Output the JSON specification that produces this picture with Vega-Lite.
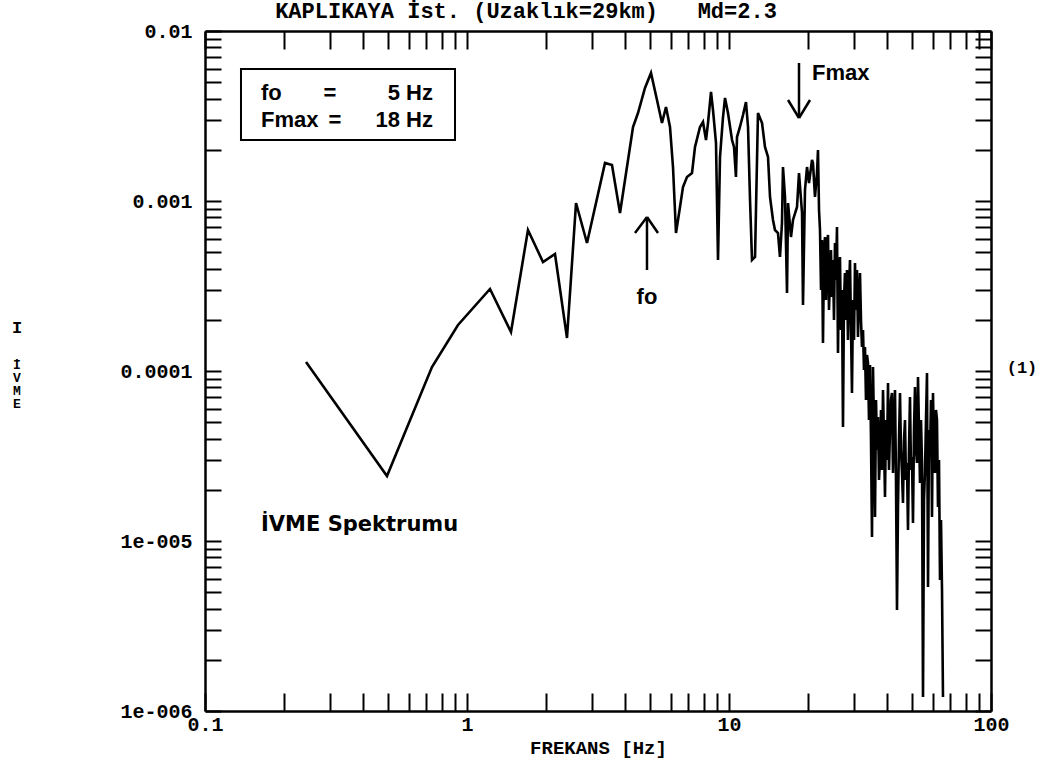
{
  "$schema": "https://vega.github.io/schema/vega-lite/v6.json",
  "width": 786,
  "height": 680,
  "autosize": {"type": "none"},
  "padding": {"left": 205, "top": 31, "right": 54, "bottom": 51},
  "background": "white",
  "title": {
    "text": "KAPLIKAYA İst. (Uzaklık=29km)\u00a0\u00a0\u00a0Md=2.3",
    "font": "Liberation Mono",
    "fontWeight": "bold",
    "fontSize": 22,
    "color": "black",
    "anchor": "middle",
    "dx": -72,
    "dy": 28,
    "offset": 4,
    "baseline": "bottom"
  },
  "config": {
    "view": {"stroke": null},
    "axis": {
      "grid": false,
      "domainColor": "black",
      "domainWidth": 2.5,
      "tickColor": "black",
      "tickWidth": 2,
      "labelColor": "black",
      "labelFont": "Liberation Mono",
      "labelFontWeight": "bold",
      "labelFontSize": 20,
      "titleColor": "black",
      "titleFont": "Liberation Mono",
      "titleFontWeight": "bold",
      "titleFontSize": 19,
      "labelOverlap": false,
      "labelBound": false,
      "labelFlush": false
    }
  },
  "datasets": {
    "spec": [
      {"f": 0.243, "a": 1.13e-4}, {"f": 0.495, "a": 2.41e-5}, {"f": 0.735, "a": 1.056e-4}, {"f": 0.924, "a": 1.865e-4},
      {"f": 1.224, "a": 3.036e-4}, {"f": 1.472, "a": 1.696e-4}, {"f": 1.709, "a": 6.752e-4}, {"f": 1.95, "a": 4.377e-4},
      {"f": 2.167, "a": 4.878e-4}, {"f": 2.408, "a": 1.564e-4}, {"f": 2.607, "a": 9.733e-4}, {"f": 2.871, "a": 5.661e-4},
      {"f": 3.363, "a": 1.673e-3}, {"f": 3.576, "a": 1.628e-3}, {"f": 3.837, "a": 8.498e-4}, {"f": 4.189, "a": 2.078e-3},
      {"f": 4.302, "a": 2.725e-3}, {"f": 4.494, "a": 3.294e-3}, {"f": 4.779, "a": 4.62e-3}, {"f": 5.038, "a": 5.661e-3},
      {"f": 5.311, "a": 3.928e-3}, {"f": 5.549, "a": 2.876e-3}, {"f": 5.748, "a": 3.572e-3}, {"f": 5.954, "a": 2.725e-3},
      {"f": 6.113, "a": 1.585e-3}, {"f": 6.276, "a": 6.483e-4}, {"f": 6.501, "a": 9.22e-4}, {"f": 6.674, "a": 1.209e-3},
      {"f": 6.913, "a": 1.384e-3}, {"f": 7.224, "a": 1.461e-3}, {"f": 7.417, "a": 2.078e-3}, {"f": 7.75, "a": 2.725e-3},
      {"f": 7.957, "a": 2.915e-3}, {"f": 8.17, "a": 2.285e-3}, {"f": 8.315, "a": 2.876e-3}, {"f": 8.537, "a": 4.377e-3},
      {"f": 8.688, "a": 3.43e-3}, {"f": 8.92, "a": 2.194e-3}, {"f": 9.079, "a": 4.497e-4}, {"f": 9.24, "a": 1.815e-3},
      {"f": 9.487, "a": 3.12e-3}, {"f": 9.655, "a": 4.036e-3}, {"f": 9.912, "a": 3.294e-3}, {"f": 10.27, "a": 2.285e-3},
      {"f": 10.45, "a": 2.078e-3}, {"f": 10.63, "a": 1.384e-3}, {"f": 10.73, "a": 2.379e-3}, {"f": 11.01, "a": 2.725e-3},
      {"f": 11.31, "a": 3.205e-3}, {"f": 11.61, "a": 3.823e-3}, {"f": 11.82, "a": 2.725e-3}, {"f": 12.03, "a": 1.014e-3},
      {"f": 12.24, "a": 4.497e-4}, {"f": 12.57, "a": 4.684e-4}, {"f": 12.9, "a": 3.294e-3}, {"f": 13.37, "a": 2.876e-3},
      {"f": 13.72, "a": 2.078e-3}, {"f": 14.09, "a": 1.815e-3}, {"f": 14.34, "a": 1.056e-3}, {"f": 14.72, "a": 7.733e-4},
      {"f": 14.98, "a": 6.752e-4}, {"f": 15.38, "a": 6.483e-4}, {"f": 15.65, "a": 4.684e-4}, {"f": 15.93, "a": 7.425e-4},
      {"f": 16.07, "a": 1.585e-3}, {"f": 16.36, "a": 1.056e-3}, {"f": 16.65, "a": 2.876e-4}, {"f": 16.8, "a": 9.733e-4},
      {"f": 17.24, "a": 6.142e-4}, {"f": 17.55, "a": 7.733e-4}, {"f": 18.18, "a": 9.22e-4}, {"f": 18.5, "a": 1.461e-3},
      {"f": 19.0, "a": 8.498e-4}, {"f": 19.16, "a": 2.445e-4}, {"f": 19.5, "a": 1.161e-3}, {"f": 19.85, "a": 1.585e-3},
      {"f": 20.2, "a": 1.276e-3}, {"f": 20.74, "a": 1.743e-3}, {"f": 20.92, "a": 1.673e-3}, {"f": 21.29, "a": 1.056e-3},
      {"f": 21.67, "a": 1.461e-3}, {"f": 21.86, "a": 1.995e-3}, {"f": 22.06, "a": 8.852e-4},
      {"f": 22.25, "a": 6.752e-4}, {"f": 22.45, "a": 2.995e-4}, {"f": 22.64, "a": 5.897e-4}, {"f": 22.84, "a": 1.461e-4},
      {"f": 23.05, "a": 5.15e-4}, {"f": 23.25, "a": 6.142e-4}, {"f": 23.46, "a": 2.616e-4}, {"f": 23.66, "a": 5.51e-4},
      {"f": 23.87, "a": 6.31e-4}, {"f": 24.08, "a": 2.285e-4}, {"f": 24.29, "a": 3.572e-4}, {"f": 24.5, "a": 5.15e-4},
      {"f": 24.72, "a": 2.725e-4}, {"f": 24.94, "a": 4.497e-4}, {"f": 25.16, "a": 1.995e-4}, {"f": 25.38, "a": 5.661e-4},
      {"f": 25.61, "a": 3.43e-4}, {"f": 25.83, "a": 7.032e-4}, {"f": 26.06, "a": 1.276e-4}, {"f": 26.29, "a": 3.928e-4},
      {"f": 26.52, "a": 4.684e-4}, {"f": 26.75, "a": 1.743e-4}, {"f": 26.99, "a": 2.995e-4}, {"f": 27.23, "a": 4.684e-5},
      {"f": 27.47, "a": 2.616e-4}, {"f": 27.71, "a": 3.771e-4}, {"f": 27.96, "a": 1.995e-4}, {"f": 28.2, "a": 3.928e-4},
      {"f": 28.45, "a": 1.522e-4}, {"f": 28.7, "a": 2.995e-4}, {"f": 28.96, "a": 4.497e-4}, {"f": 29.22, "a": 1.743e-4},
      {"f": 29.47, "a": 7.425e-5}, {"f": 29.73, "a": 2.616e-4}, {"f": 30.0, "a": 1.522e-4}, {"f": 30.26, "a": 4.318e-4},
      {"f": 30.53, "a": 2.285e-4}, {"f": 30.8, "a": 3.928e-4}, {"f": 31.07, "a": 1.585e-4}, {"f": 31.34, "a": 2.616e-4},
      {"f": 31.62, "a": 3.771e-4}, {"f": 31.9, "a": 1.995e-4}, {"f": 32.18, "a": 1.384e-4}, {"f": 32.47, "a": 1.743e-4},
      {"f": 32.75, "a": 1.014e-4}, {"f": 33.04, "a": 1.384e-4}, {"f": 33.33, "a": 6.752e-5}, {"f": 33.63, "a": 1.242e-4},
      {"f": 33.92, "a": 1.115e-4}, {"f": 34.22, "a": 5.15e-5}, {"f": 34.53, "a": 1.085e-4}, {"f": 34.83, "a": 3.928e-5},
      {"f": 35.14, "a": 1.056e-5}, {"f": 35.45, "a": 1.056e-4}, {"f": 35.77, "a": 4.497e-5}, {"f": 36.08, "a": 1.384e-5},
      {"f": 36.4, "a": 6.752e-5}, {"f": 36.72, "a": 3.43e-5}, {"f": 37.05, "a": 5.364e-5}, {"f": 37.37, "a": 2.285e-5},
      {"f": 37.7, "a": 3.12e-5}, {"f": 38.03, "a": 5.897e-5}, {"f": 38.37, "a": 2.616e-5}, {"f": 38.71, "a": 7.733e-5},
      {"f": 39.05, "a": 3.928e-5}, {"f": 39.39, "a": 1.815e-5}, {"f": 39.74, "a": 5.15e-5}, {"f": 40.09, "a": 2.995e-5},
      {"f": 40.45, "a": 8.498e-5}, {"f": 40.8, "a": 2.616e-5}, {"f": 41.16, "a": 4.497e-5}, {"f": 41.52, "a": 6.752e-5},
      {"f": 41.89, "a": 7.425e-5}, {"f": 42.26, "a": 2.512e-5}, {"f": 42.63, "a": 5.15e-5}, {"f": 43.01, "a": 7.733e-5},
      {"f": 43.39, "a": 2.285e-5}, {"f": 43.77, "a": 3.928e-6}, {"f": 44.16, "a": 1.585e-5}, {"f": 44.55, "a": 3.928e-5},
      {"f": 44.94, "a": 7.425e-5}, {"f": 45.34, "a": 3.43e-5}, {"f": 45.74, "a": 2.512e-5}, {"f": 46.14, "a": 1.673e-5},
      {"f": 46.55, "a": 3.928e-5}, {"f": 46.96, "a": 5.15e-5}, {"f": 47.37, "a": 2.285e-5}, {"f": 47.79, "a": 2.876e-5},
      {"f": 48.21, "a": 1.161e-5}, {"f": 48.64, "a": 3.43e-5}, {"f": 49.07, "a": 7.032e-5}, {"f": 49.5, "a": 2.616e-5},
      {"f": 49.94, "a": 3.12e-5}, {"f": 50.38, "a": 1.276e-5}, {"f": 50.83, "a": 4.497e-5}, {"f": 51.28, "a": 8.052e-5},
      {"f": 51.73, "a": 3.43e-5}, {"f": 52.19, "a": 2.876e-5}, {"f": 52.65, "a": 9.22e-5}, {"f": 53.11, "a": 4.497e-5},
      {"f": 53.58, "a": 2.194e-5}, {"f": 54.05, "a": 5.15e-5}, {"f": 54.53, "a": 2.876e-5}, {"f": 55.01, "a": 1.209e-6},
      {"f": 55.5, "a": 1.743e-5}, {"f": 55.99, "a": 2.616e-5}, {"f": 56.48, "a": 5.15e-5}, {"f": 56.98, "a": 9.733e-5},
      {"f": 57.49, "a": 5.364e-6}, {"f": 57.99, "a": 4.497e-5}, {"f": 58.5, "a": 3.12e-5}, {"f": 59.02, "a": 6.752e-5},
      {"f": 59.54, "a": 1.384e-5}, {"f": 60.06, "a": 7.425e-5}, {"f": 60.59, "a": 3.43e-5}, {"f": 61.13, "a": 2.512e-5},
      {"f": 61.67, "a": 5.897e-5}, {"f": 62.21, "a": 5.15e-5}, {"f": 62.76, "a": 1.585e-5}, {"f": 63.32, "a": 2.995e-5},
      {"f": 63.88, "a": 5.897e-6}, {"f": 64.44, "a": 1.329e-5}, {"f": 65.01, "a": 5.15e-6}, {"f": 65.58, "a": 1.209e-6}
    ],
    "box": [{"f1": 0.1372, "f2": 0.9, "a1": 5.976e-3, "a2": 2.285e-3}],
    "arrows": [
      {"x": 4.864, "x2": 4.864, "y": 8.052e-4, "y2": 3.928e-4},
      {"x": 4.378, "x2": 4.864, "y": 6.483e-4, "y2": 8.052e-4},
      {"x": 5.358, "x2": 4.864, "y": 6.483e-4, "y2": 8.052e-4},
      {"x": 18.5, "x2": 18.5, "y": 6.483e-3, "y2": 3.078e-3},
      {"x": 16.8, "x2": 18.5, "y": 3.928e-3, "y2": 3.078e-3},
      {"x": 20.38, "x2": 18.5, "y": 3.928e-3, "y2": 3.078e-3}
    ],
    "txtLeft": [
      {"f": 0.1636, "a": 4.318e-3, "t": "fo"},
      {"f": 0.1636, "a": 2.995e-3, "t": "Fmax"},
      {"f": 20.74, "a": 5.661e-3, "t": "Fmax"}
    ],
    "txtRight": [
      {"f": 0.7417, "a": 4.318e-3, "t": "5 Hz"},
      {"f": 0.7417, "a": 2.995e-3, "t": "18 Hz"}
    ],
    "txtCenter": [
      {"f": 0.3, "a": 4.318e-3, "t": "="},
      {"f": 0.3134, "a": 2.995e-3, "t": "="},
      {"f": 4.864, "a": 2.725e-4, "t": "fo"}
    ],
    "txtSpec": [{"f": 0.1636, "a": 1.242e-5, "t": "İVME Spektrumu"}],
    "txtMono": [
      {"f": 131.3, "a": 1.041e-4, "t": "(1)"},
      {"f": 0.01916, "a": 1.79e-4, "t": "I"}
    ],
    "txtStack": [{"f": 0.01916, "a": 1.085e-4}]
  },
  "layer": [
    {
      "data": {"name": "spec"},
      "mark": {"type": "line", "color": "black", "strokeWidth": 2.6},
      "encoding": {
        "x": {
          "field": "f", "type": "quantitative",
          "scale": {"type": "log", "domain": [0.1, 100], "nice": false},
          "axis": {
            "orient": "bottom",
            "values": [0.1, 0.2, 0.3, 0.4, 0.5, 0.6, 0.7, 0.8, 0.9, 1, 2, 3, 4, 5, 6, 7, 8, 9, 10, 20, 30, 40, 50, 60, 70, 80, 90, 100],
            "labelExpr": "datum.value == 0.1 ? '0.1' : datum.value == 1 ? '1' : datum.value == 10 ? '10' : datum.value == 100 ? '100' : ''",
            "tickSize": -18,
            "labelPadding": 21,
            "title": "FREKANS [Hz]",
            "titlePadding": 4
          }
        },
        "y": {
          "field": "a", "type": "quantitative",
          "scale": {"type": "log", "domain": [1e-6, 0.01], "nice": false},
          "axis": {
            "orient": "left",
            "values": [1e-6, 2e-6, 3e-6, 4e-6, 5e-6, 6e-6, 7e-6, 8e-6, 9e-6, 1e-5, 2e-5, 3e-5, 4e-5, 5e-5, 6e-5, 7e-5, 8e-5, 9e-5, 1e-4, 2e-4, 3e-4, 4e-4, 5e-4, 6e-4, 7e-4, 8e-4, 9e-4, 1e-3, 2e-3, 3e-3, 4e-3, 5e-3, 6e-3, 7e-3, 8e-3, 9e-3, 1e-2],
            "labelExpr": "datum.value == 1e-6 ? '1e-006' : datum.value == 1e-5 ? '1e-005' : datum.value == 0.0001 ? '0.0001' : datum.value == 0.001 ? '0.001' : datum.value == 0.01 ? '0.01' : ''",
            "tickSize": -16,
            "labelPadding": 29,
            "title": null,
            "encode": {"labels": {"update": {"dy": {"signal": "datum.value == 1e-6 ? -8 : 0"}}}}
          }
        }
      }
    },
    {
      "data": {"name": "box"},
      "mark": {"type": "rect", "fill": "white", "stroke": "black", "strokeWidth": 2},
      "encoding": {
        "x": {
          "field": "f1", "type": "quantitative",
          "scale": {"type": "log", "domain": [0.1, 100], "nice": false},
          "axis": {
            "orient": "top",
            "values": [0.1, 0.2, 0.3, 0.4, 0.5, 0.6, 0.7, 0.8, 0.9, 1, 2, 3, 4, 5, 6, 7, 8, 9, 10, 20, 30, 40, 50, 60, 70, 80, 90, 100],
            "labels": false,
            "tickSize": -18,
            "title": null
          }
        },
        "x2": {"field": "f2"},
        "y": {
          "field": "a1", "type": "quantitative",
          "scale": {"type": "log", "domain": [1e-6, 0.01], "nice": false},
          "axis": {
            "orient": "right",
            "values": [1e-6, 2e-6, 3e-6, 4e-6, 5e-6, 6e-6, 7e-6, 8e-6, 9e-6, 1e-5, 2e-5, 3e-5, 4e-5, 5e-5, 6e-5, 7e-5, 8e-5, 9e-5, 1e-4, 2e-4, 3e-4, 4e-4, 5e-4, 6e-4, 7e-4, 8e-4, 9e-4, 1e-3, 2e-3, 3e-3, 4e-3, 5e-3, 6e-3, 7e-3, 8e-3, 9e-3, 1e-2],
            "labels": false,
            "tickSize": -16,
            "title": null
          }
        },
        "y2": {"field": "a2"}
      }
    },
    {
      "data": {"name": "arrows"},
      "mark": {"type": "rule", "color": "black", "strokeWidth": 2.5},
      "encoding": {
        "x": {"field": "x", "type": "quantitative", "scale": {"type": "log", "domain": [0.1, 100], "nice": false}, "axis": null},
        "x2": {"field": "x2"},
        "y": {"field": "y", "type": "quantitative", "scale": {"type": "log", "domain": [1e-6, 0.01], "nice": false}, "axis": null},
        "y2": {"field": "y2"}
      }
    },
    {
      "data": {"name": "txtLeft"},
      "mark": {"type": "text", "align": "left", "baseline": "middle", "font": "Liberation Sans", "fontWeight": "bold", "fontSize": 22, "color": "black"},
      "encoding": {
        "x": {"field": "f", "type": "quantitative", "scale": {"type": "log", "domain": [0.1, 100], "nice": false}, "axis": null},
        "y": {"field": "a", "type": "quantitative", "scale": {"type": "log", "domain": [1e-6, 0.01], "nice": false}, "axis": null},
        "text": {"field": "t"}
      }
    },
    {
      "data": {"name": "txtRight"},
      "mark": {"type": "text", "align": "right", "baseline": "middle", "font": "Liberation Sans", "fontWeight": "bold", "fontSize": 22, "color": "black"},
      "encoding": {
        "x": {"field": "f", "type": "quantitative", "scale": {"type": "log", "domain": [0.1, 100], "nice": false}, "axis": null},
        "y": {"field": "a", "type": "quantitative", "scale": {"type": "log", "domain": [1e-6, 0.01], "nice": false}, "axis": null},
        "text": {"field": "t"}
      }
    },
    {
      "data": {"name": "txtCenter"},
      "mark": {"type": "text", "align": "center", "baseline": "middle", "font": "Liberation Sans", "fontWeight": "bold", "fontSize": 22, "color": "black"},
      "encoding": {
        "x": {"field": "f", "type": "quantitative", "scale": {"type": "log", "domain": [0.1, 100], "nice": false}, "axis": null},
        "y": {"field": "a", "type": "quantitative", "scale": {"type": "log", "domain": [1e-6, 0.01], "nice": false}, "axis": null},
        "text": {"field": "t"}
      }
    },
    {
      "data": {"name": "txtSpec"},
      "mark": {"type": "text", "align": "left", "baseline": "middle", "font": "DejaVu Sans", "fontWeight": "bold", "fontSize": 21, "color": "black"},
      "encoding": {
        "x": {"field": "f", "type": "quantitative", "scale": {"type": "log", "domain": [0.1, 100], "nice": false}, "axis": null},
        "y": {"field": "a", "type": "quantitative", "scale": {"type": "log", "domain": [1e-6, 0.01], "nice": false}, "axis": null},
        "text": {"field": "t"}
      }
    },
    {
      "data": {"name": "txtMono"},
      "mark": {"type": "text", "align": "center", "baseline": "middle", "font": "Liberation Mono", "fontWeight": "bold", "fontSize": 17, "color": "black"},
      "encoding": {
        "x": {"field": "f", "type": "quantitative", "scale": {"type": "log", "domain": [0.1, 100], "nice": false}, "axis": null},
        "y": {"field": "a", "type": "quantitative", "scale": {"type": "log", "domain": [1e-6, 0.01], "nice": false}, "axis": null},
        "text": {"field": "t"}
      }
    },
    {
      "data": {"name": "txtStack"},
      "mark": {"type": "text", "align": "center", "baseline": "middle", "font": "Liberation Mono", "fontWeight": "bold", "fontSize": 13, "lineHeight": 13, "color": "black"},
      "encoding": {
        "x": {"field": "f", "type": "quantitative", "scale": {"type": "log", "domain": [0.1, 100], "nice": false}, "axis": null},
        "y": {"field": "a", "type": "quantitative", "scale": {"type": "log", "domain": [1e-6, 0.01], "nice": false}, "axis": null},
        "text": {"value": ["İ", "V", "M", "E"]}
      }
    }
  ],
  "resolve": {"axis": {"x": "independent", "y": "independent"}}
}
